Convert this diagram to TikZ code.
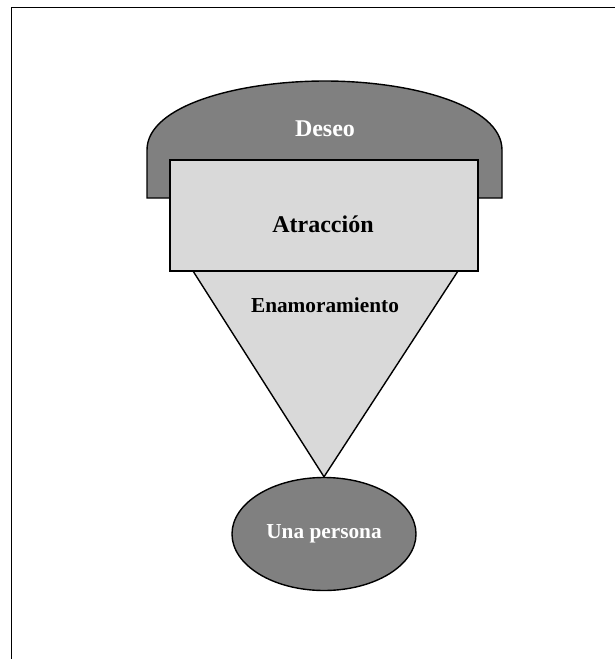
\documentclass[tikz,border=0pt]{standalone}
\usepackage{fontspec}
\setmainfont{Liberation Serif}
\usetikzlibrary{shapes.geometric}
\definecolor{darkfill}{HTML}{808080}
\definecolor{lightfill}{HTML}{D9D9D9}
\begin{document}
\begin{tikzpicture}[x=1pt,y=-1pt,
  outline/.style={draw=black,line width=1.4pt,line join=miter},
  bigtext/.style={font=\fontsize{24}{28}\selectfont\bfseries},
  smalltext/.style={font=\fontsize{21.3}{25}\selectfont\bfseries}]
\useasboundingbox (0,0) rectangle (615,659);
\clip (0,0) rectangle (615,659);
% page frame
\draw[line width=1.9pt] (11.5,7.5) rectangle (700,720);

% Deseo: box with a domed top
\draw[outline,fill=darkfill] (147,198) -- (147,150)
  .. controls (147,105) and (240,81) .. (325,81)
  .. controls (410,81) and (502,105) .. (502,150)
  -- (502,198) -- cycle;
\node[bigtext,text=white] (deseo) at (325,129) {Deseo};

% Una persona
\node[outline,fill=darkfill,ellipse,minimum width=184pt,minimum height=113pt,
      inner sep=0pt] (persona) at (324,534) {};
\node[smalltext,text=white] (personatxt) at (persona.center) {Una persona};

% Enamoramiento: funnel down to the person
\coordinate (tl) at (193,271);
\coordinate (tr) at (458,271);
\draw[outline,fill=lightfill] (tl) -- (tr) -- (persona.north) -- cycle;
\node[smalltext] (enam) at (325,305) {Enamoramiento};

% Atraccion
\node[outline,fill=lightfill,minimum width=308pt,minimum height=111pt,
      inner sep=0pt] (atrac) at (324,215.5) {};
\node[bigtext] (atractxt) at (323,224) {Atracción};
\end{tikzpicture}
\end{document}
